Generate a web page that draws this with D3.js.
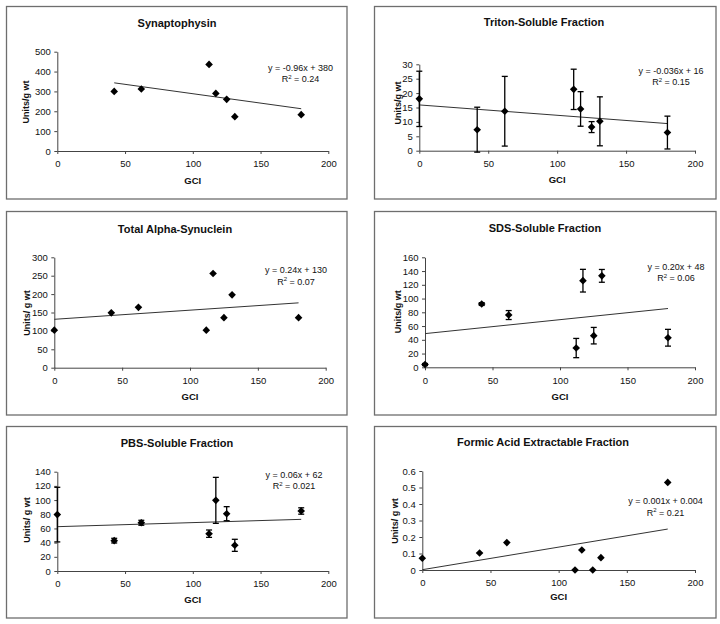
<!DOCTYPE html>
<html>
<head>
<meta charset="utf-8">
<script src="https://cdn.jsdelivr.net/npm/d3@7/dist/d3.min.js"></script>
<style>
  html, body { margin: 0; padding: 0; background: #fff; }
  svg { display: block; font-family: "Liberation Sans", Arial, sans-serif; }
</style>
</head>
<body>
<svg id="chart" width="720" height="624"></svg>
<script>
// ---------------- DATA ----------------
const GCI = [0, 42, 62, 112, 117, 125, 131, 180];

const synaptophysin = [null, 300, 312, 436, 290, 260, 173, 183];
const triton        = [18.0, 7.3, 13.7, 21.3, 14.5, 8.2, 10.2, 6.3];
const tritonErr     = [9.6, 7.8, 12.1, 7.0, 6.0, 1.9, 8.5, 5.7];
const alphaSyn      = [102, 149, 164, 102, 256, 136, 198, 136];
const sds           = [4, 92, 76, 28, 126, 46, 133, 43];
const sdsErr        = [1.5, 2, 6.5, 14, 16.5, 12, 9.3, 12.2];
const pbs           = [79.5, 42.8, 68, 52.6, 99.6, 80.8, 36.2, 84.6];
const pbsErr        = [38.5, 3.3, 3.5, 5.2, 32.4, 9.9, 8.5, 4.5];
const formic        = [0.071, 0.103, 0.166, 0, 0.121, 0, 0.075, 0.531];

const titles  = ["Synaptophysin", "Triton-Soluble Fraction", "Total Alpha-Synuclein",
                 "SDS-Soluble Fraction", "PBS-Soluble Fraction", "Formic Acid Extractable Fraction"];
const yTitles = ["Units/g wt", "Units/g wt", "Units/ g wt", "Units/g wt", "Units/ g wt", "Units/ g wt"];
const eqTexts = ["y = -0.96x + 380", "y = -0.036x + 16", "y = 0.24x + 130",
                 "y = 0.20x + 48", "y = 0.06x + 62", "y = 0.001x + 0.004"];
const r2Texts = ["0.24", "0.15", "0.07", "0.06", "0.021", "0.21"];
const yTickValues = [
  [0, 100, 200, 300, 400, 500],
  [0, 5, 10, 15, 20, 25, 30],
  [0, 50, 100, 150, 200, 250, 300],
  [0, 20, 40, 60, 80, 100, 120, 140, 160],
  [0, 20, 40, 60, 80, 100, 120, 140],
  [0, 0.1, 0.2, 0.3, 0.4, 0.5, 0.6]
];
const xTickValues = [0, 50, 100, 150, 200];
const seriesValues = [synaptophysin, triton, alphaSyn, sds, pbs, formic];
const seriesErrors = [null, tritonErr, null, sdsErr, pbsErr, null];

// ---------------- LAYOUT ----------------
const layout = [
  { frame: [6.5, 6.5, 347, 199],   plot: [57.3, 51.7, 328.3, 151],   title: [177, 26.5], eq: [300.5, 70.7], yt: [26, 102], gci: 184 },
  { frame: [374.5, 6.5, 716, 199], plot: [419.3, 64.3, 695, 150.7],  title: [544, 26],   eq: [671, 74],     yt: [397.7, 103], gci: 183 },
  { frame: [6.5, 211.5, 347, 415], plot: [54.3, 257.3, 325.7, 367.7], title: [175, 232.7], eq: [296, 273.3], yt: [27, 313], gci: 399.5 },
  { frame: [374.5, 211.5, 716, 415], plot: [425, 257.3, 695, 367.3], title: [545, 231.7], eq: [676, 270],   yt: [398, 311.7], gci: 399.5 },
  { frame: [6.5, 426.5, 347, 618], plot: [57.3, 471.7, 328.3, 571],  title: [177, 446.7], eq: [294, 477.7], yt: [26.3, 520], gci: 602.5 },
  { frame: [374.5, 426.5, 716, 618], plot: [422.3, 471, 695, 570],   title: [543, 445.7], eq: [665.5, 504.3], yt: [394.5, 521], gci: 600 }
];

const svg = d3.select("#chart");
svg.append("rect").attr("width", 720).attr("height", 624).attr("fill", "#fff");

function regression(xs, ys) {
  const pts = xs.map((x, i) => [x, ys[i]]).filter(p => p[1] != null);
  const mx = d3.mean(pts, p => p[0]), my = d3.mean(pts, p => p[1]);
  let sxy = 0, sxx = 0;
  pts.forEach(p => { sxy += (p[0] - mx) * (p[1] - my); sxx += (p[0] - mx) ** 2; });
  const m = sxy / sxx;
  return { m, b: my - m * mx, x0: d3.min(pts, p => p[0]), x1: d3.max(pts, p => p[0]) };
}

const diamond = (r) => `M0,${-r}L${r},0L0,${r}L${-r},0Z`;

layout.forEach((L, i) => {
  const g = svg.append("g");
  const [fx0, fy0, fx1, fy1] = L.frame;
  g.append("rect").attr("x", fx0).attr("y", fy0).attr("width", fx1 - fx0).attr("height", fy1 - fy0)
    .attr("fill", "#fff").attr("stroke", "#6e6e6e").attr("stroke-width", 1.3);

  const [px0, py0, px1, py1] = L.plot;
  const yt = yTickValues[i];
  const x = d3.scaleLinear().domain([0, 200]).range([px0, px1]);
  const y = d3.scaleLinear().domain([0, yt[yt.length - 1]]).range([py1, py0]);

  // title
  g.append("text").attr("x", L.title[0]).attr("y", L.title[1]).attr("text-anchor", "middle")
    .attr("font-size", 11).attr("font-weight", "bold").attr("fill", "#111").text(titles[i]);

  // axes
  const fmt = i === 5 ? (d => String(+d.toFixed(1))) : d3.format("d");
  const ya = g.append("g").attr("transform", `translate(${px0},0)`)
    .call(d3.axisLeft(y).tickValues(yt).tickSize(3).tickPadding(3.5).tickFormat(fmt).tickSizeOuter(0));
  const xa = g.append("g").attr("transform", `translate(0,${py1})`)
    .call(d3.axisBottom(x).tickValues(xTickValues).tickSize(3).tickPadding(6.5).tickSizeOuter(0));
  [ya, xa].forEach(a => {
    a.selectAll("path.domain").attr("stroke", "#444").attr("stroke-width", 1);
    a.selectAll(".tick line").attr("stroke", "#444");
    a.selectAll(".tick text").attr("font-size", 9.5).attr("fill", "#111")
      .attr("font-family", "'Liberation Sans', Arial, sans-serif");
  });

  // axis titles
  g.append("text").attr("x", (px0 + px1) / 2).attr("y", L.gci).attr("text-anchor", "middle")
    .attr("font-size", 9.5).attr("font-weight", "bold").attr("fill", "#111").text("GCI");
  g.append("text").attr("transform", `translate(${L.yt[0] + 3.3},${L.yt[1]}) rotate(-90)`)
    .attr("text-anchor", "middle").attr("font-size", 9).attr("font-weight", "bold")
    .attr("fill", "#111").text(yTitles[i]);

  // trendline
  const vals = seriesValues[i];
  const reg = regression(GCI, vals);
  g.append("line")
    .attr("x1", x(reg.x0)).attr("y1", y(reg.m * reg.x0 + reg.b))
    .attr("x2", x(reg.x1)).attr("y2", y(reg.m * reg.x1 + reg.b))
    .attr("stroke", "#333").attr("stroke-width", 1);

  // error bars
  const errs = seriesErrors[i];
  const pts = GCI.map((gx, k) => ({ gx, v: vals[k], e: errs ? errs[k] : 0 })).filter(p => p.v != null);
  if (errs) {
    const eb = g.append("g").attr("stroke", "#000").attr("stroke-width", 1.3);
    pts.forEach(p => {
      const cx = x(p.gx), ylo = y(p.v - p.e), yhi = y(p.v + p.e);
      eb.append("line").attr("x1", cx).attr("x2", cx).attr("y1", ylo).attr("y2", yhi);
      eb.append("line").attr("x1", cx - 3).attr("x2", cx + 3).attr("y1", ylo).attr("y2", ylo);
      eb.append("line").attr("x1", cx - 3).attr("x2", cx + 3).attr("y1", yhi).attr("y2", yhi);
    });
  }

  // markers
  g.append("g").selectAll("path").data(pts).join("path")
    .attr("transform", p => `translate(${x(p.gx)},${y(p.v)})`)
    .attr("d", diamond(3.8)).attr("fill", "#000");

  // equation
  g.append("text").attr("x", L.eq[0]).attr("y", L.eq[1]).attr("text-anchor", "middle")
    .attr("font-size", 9).attr("fill", "#111").text(eqTexts[i]);
  const r2 = g.append("text").attr("x", L.eq[0]).attr("y", L.eq[1] + 11.3).attr("text-anchor", "middle")
    .attr("font-size", 9).attr("fill", "#111");
  r2.append("tspan").text("R");
  r2.append("tspan").attr("dy", -3.5).attr("font-size", 6).text("2");
  r2.append("tspan").attr("dy", 3.5).text(" = " + r2Texts[i]);
});
</script>
</body>
</html>
